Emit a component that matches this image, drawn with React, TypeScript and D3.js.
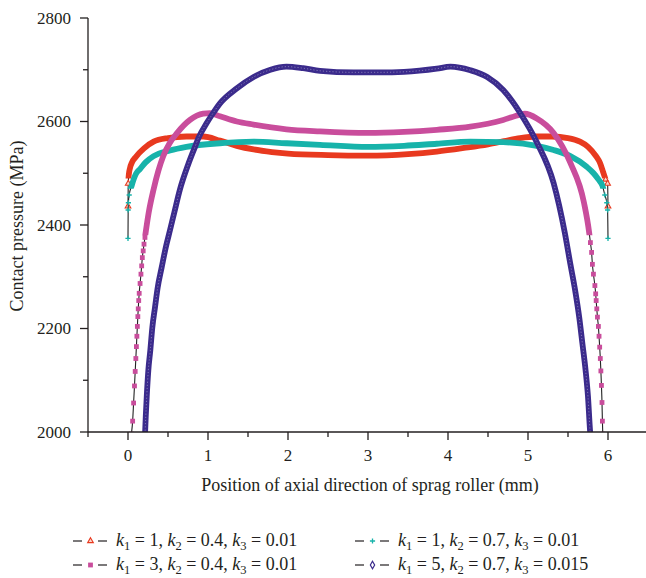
import React from 'react';
import * as d3 from 'd3';

const W = 646;
const H = 578;

// Axis ticks
const xTicks = [0, 1, 2, 3, 4, 5, 6];
const xMinorTicks = [-0.5, 0.5, 1.5, 2.5, 3.5, 4.5, 5.5, 6.5];
const yTicks = [2000, 2200, 2400, 2600, 2800];
const yMinorTicks = [2100, 2300, 2500, 2700];

// k1 = 1, k2 = 0.4, k3 = 0.01
const redX = [0, 0.003, 0.01, 0.025, 0.05, 0.1, 0.2, 0.32, 0.5, 0.73, 0.94, 1.15, 1.36, 1.57, 1.8, 2.0, 2.5, 3.0, 3.5, 3.86, 4.2, 4.5, 4.7, 4.9, 5.1, 5.3, 5.5, 5.65, 5.75, 5.85, 5.9, 5.94, 5.97, 5.995, 6.0];
const redP = [2436, 2480, 2497, 2510, 2521, 2532, 2548, 2561, 2568, 2571, 2571, 2563, 2553, 2546, 2541, 2538, 2535, 2534, 2537, 2542, 2549, 2556, 2562, 2568, 2571, 2571, 2568, 2561, 2551, 2533, 2520, 2502, 2488, 2480, 2436];

// k1 = 1, k2 = 0.7, k3 = 0.01
const cyanX = [0, 0.002, 0.005, 0.015, 0.046, 0.1, 0.15, 0.22, 0.32, 0.525, 0.73, 1.15, 1.57, 1.98, 2.4, 3.0, 3.45, 3.86, 4.28, 4.69, 5.11, 5.32, 5.53, 5.73, 5.82, 5.88, 5.93, 5.96, 5.985, 5.995, 6.0];
const cyanP = [2374, 2429, 2443, 2458, 2476, 2499, 2508, 2521, 2533, 2544, 2551, 2558, 2561, 2558, 2555, 2551, 2553, 2557, 2561, 2560, 2553, 2545, 2533, 2513, 2500, 2488, 2476, 2458, 2443, 2429, 2374];

// k1 = 3, k2 = 0.4, k3 = 0.01
const pinkX = [0.042, 0.058, 0.07, 0.081, 0.09, 0.098, 0.105, 0.111, 0.117, 0.123, 0.128, 0.134, 0.14, 0.151, 0.162, 0.171, 0.179, 0.19, 0.2, 0.212, 0.26, 0.32, 0.38, 0.44, 0.52, 0.61, 0.775, 0.94, 1.025, 1.15, 1.36, 1.57, 1.98, 2.4, 3.0, 3.45, 3.86, 4.28, 4.69, 4.9, 4.96, 5.11, 5.32, 5.53, 5.7, 5.765, 5.78, 5.795, 5.805, 5.818, 5.836, 5.846, 5.852, 5.86, 5.868, 5.88, 5.888, 5.896, 5.904, 5.911, 5.918, 5.925, 5.93, 5.935];
const pinkP = [1996, 2021, 2056, 2089, 2117, 2142, 2165, 2185, 2204, 2223, 2238, 2254, 2268, 2287, 2305, 2321, 2337, 2350, 2363, 2376, 2425, 2469, 2505, 2533, 2558, 2577, 2603, 2615, 2616, 2610, 2600, 2594, 2585, 2581, 2578, 2580, 2584, 2590, 2603, 2613, 2615, 2606, 2578, 2520, 2443, 2385, 2366, 2347, 2324, 2305, 2283, 2267, 2254, 2238, 2222, 2204, 2185, 2164, 2142, 2118, 2090, 2057, 2021, 1996];

// k1 = 5, k2 = 0.7, k3 = 0.015
const purpleX = [0.213, 0.222, 0.234, 0.254, 0.279, 0.304, 0.3375, 0.371, 0.421, 0.471, 0.525, 0.58, 0.65, 0.75, 0.84, 0.88, 0.98, 1.05, 1.15, 1.36, 1.57, 1.78, 1.98, 2.19, 2.4, 2.82, 3.15, 3.45, 3.86, 4.03, 4.28, 4.49, 4.69, 4.9, 5.11, 5.32, 5.46, 5.53, 5.59, 5.64, 5.68, 5.72, 5.75, 5.775, 5.785];
const purpleP = [1996, 2030, 2068, 2119, 2158, 2202, 2241, 2279, 2318, 2356, 2390, 2425, 2469, 2516, 2552, 2568, 2596, 2613, 2635, 2664, 2686, 2700, 2706, 2703, 2698, 2695, 2695, 2696, 2702, 2706, 2699, 2686, 2661, 2617, 2560, 2481, 2385, 2324, 2273, 2222, 2171, 2119, 2068, 2004, 1985];

// Legend parameter values, in series order
const k1Values = ['1', '1', '3', '5'];
const k2Values = ['0.4', '0.7', '0.4', '0.7'];
const k3Values = ['0.01', '0.01', '0.01', '0.015'];

type MarkerKind = 'triangle' | 'plus' | 'square' | 'diamond';

const seriesList: {
  id: string;
  xs: number[];
  ps: number[];
  color: string;
  marker: MarkerKind;
  bandFrom: number;
  hollowBand?: boolean;
}[] = [
  { id: 'red', xs: redX, ps: redP, color: '#e8391f', marker: 'triangle', bandFrom: 2490 },
  { id: 'cyan', xs: cyanX, ps: cyanP, color: '#17b3aa', marker: 'plus', bandFrom: 2470 },
  { id: 'pink', xs: pinkX, ps: pinkP, color: '#c94d9c', marker: 'square', bandFrom: 2380 },
  { id: 'purple', xs: purpleX, ps: purpleP, color: '#3b2b8c', marker: 'diamond', bandFrom: 1900, hollowBand: true },
];

const FONT = '"Liberation Serif", "Times New Roman", serif';
const AXIS = '#231f20';

const x = d3.scaleLinear().domain([-0.5, 6.5]).range([88, 648]);
const y = d3.scaleLinear().domain([2000, 2800]).range([432, 18]);

function Marker({ kind, color, cx, cy }: { kind: MarkerKind; color: string; cx: number; cy: number }) {
  const t = `translate(${cx},${cy})`;
  if (kind === 'triangle') {
    return <path transform={t} d={d3.symbol(d3.symbolTriangle, 14)() || ''} fill="#fbd6cc" stroke={color} strokeWidth={1.1} />;
  }
  if (kind === 'square') {
    return <rect x={cx - 2.4} y={cy - 2.4} width={4.8} height={4.8} fill={color} />;
  }
  if (kind === 'plus') {
    return <path transform={t} d="M-2.6,0H2.6M0,-2.6V2.6" stroke={color} strokeWidth={1.3} fill="none" />;
  }
  return <path transform={t} d={d3.symbol(d3.symbolDiamond, 16)() || ''} fill="#fff" stroke={color} strokeWidth={1.2} />;
}

export default function App() {
  const line = d3
    .line<[number, number]>()
    .x((d) => x(d[0]))
    .y((d) => y(d[1]))
    .curve(d3.curveMonotoneX);

  const legendCols = [73, 355];
  const legendRows = [541, 565];

  return (
    <svg
      width={W}
      height={H}
      viewBox={`0 0 ${W} ${H}`}
      style={{ position: 'absolute', left: 0, top: 0, background: '#fff' }}
      fontFamily={FONT}
    >
      <defs>
        <clipPath id="plot-area">
          <rect x={88} y={0} width={W - 88} height={432} />
        </clipPath>
        {seriesList.map((s) => (
          <clipPath id={`band-${s.id}`} key={s.id}>
            <rect x={88} y={0} width={W - 88} height={y(s.bandFrom)} />
          </clipPath>
        ))}
      </defs>

      {/* Series */}
      <g clipPath="url(#plot-area)">
        {seriesList.map((s) => {
          const pts = s.xs.map((v, i) => [v, s.ps[i]] as [number, number]);
          const d = line(pts) || '';
          return (
            <g key={s.id}>
              <path d={d} fill="none" stroke="#222" strokeWidth={1.1} />
              <g clipPath={`url(#band-${s.id})`}>
                <path d={d} fill="none" stroke={s.color} strokeWidth={5.8} strokeLinejoin="round" />
                {s.hollowBand && (
                  <path d={d} fill="none" stroke="#fff" strokeOpacity={0.35} strokeWidth={1} strokeDasharray="1.2 2" />
                )}
              </g>
              {pts
                .filter((p) => p[1] < s.bandFrom)
                .map((p, i) => (
                  <Marker key={i} kind={s.marker} color={s.color} cx={x(p[0])} cy={y(p[1])} />
                ))}
            </g>
          );
        })}
      </g>

      {/* Y axis */}
      <g stroke={AXIS} strokeWidth={1.3}>
        <line x1={88} x2={88} y1={y(2800)} y2={y(2000)} />
        {yTicks.map((t) => (
          <line key={t} x1={80} x2={88} y1={y(t)} y2={y(t)} />
        ))}
        {yMinorTicks.map((t) => (
          <line key={t} x1={83} x2={88} y1={y(t)} y2={y(t)} />
        ))}
      </g>
      {yTicks.map((t) => (
        <text key={t} x={71} y={y(t)} dy="0.34em" textAnchor="end" fontSize={17} fill={AXIS}>
          {t}
        </text>
      ))}

      {/* X axis */}
      <g stroke={AXIS} strokeWidth={1.3}>
        <line x1={88} x2={W} y1={432} y2={432} />
        {xTicks.map((t) => (
          <line key={t} x1={x(t)} x2={x(t)} y1={432} y2={440} />
        ))}
        {xMinorTicks.map((t) => (
          <line key={t} x1={x(t)} x2={x(t)} y1={432} y2={437} />
        ))}
      </g>
      {xTicks.map((t) => (
        <text key={t} x={x(t)} y={461} textAnchor="middle" fontSize={17} fill={AXIS}>
          {t}
        </text>
      ))}

      {/* Axis titles */}
      <text x={370} y={491} textAnchor="middle" fontSize={18} fill={AXIS}>
        Position of axial direction of sprag roller (mm)
      </text>
      <text transform="translate(23,226) rotate(-90)" textAnchor="middle" fontSize={18} fill={AXIS}>
        Contact pressure (MPa)
      </text>

      {/* Legend */}
      {seriesList.map((s, i) => {
        const lx = legendCols[i % 2];
        const ly = legendRows[Math.floor(i / 2)];
        return (
          <g key={s.id}>
            <line x1={lx} x2={lx + 9} y1={ly} y2={ly} stroke={AXIS} strokeWidth={1.2} />
            <line x1={lx + 25} x2={lx + 34} y1={ly} y2={ly} stroke={AXIS} strokeWidth={1.2} />
            <Marker kind={s.marker} color={s.color} cx={lx + 17.5} cy={ly} />
            <text x={lx + 43} y={ly + 5} fontSize={18} fill={AXIS}>
              <tspan fontStyle="italic">k</tspan>
              <tspan fontSize={12.5} dy={4}>1</tspan>
              <tspan dy={-4}>{` = ${k1Values[i]}, `}</tspan>
              <tspan fontStyle="italic">k</tspan>
              <tspan fontSize={12.5} dy={4}>2</tspan>
              <tspan dy={-4}>{` = ${k2Values[i]}, `}</tspan>
              <tspan fontStyle="italic">k</tspan>
              <tspan fontSize={12.5} dy={4}>3</tspan>
              <tspan dy={-4}>{` = ${k3Values[i]}`}</tspan>
            </text>
          </g>
        );
      })}
    </svg>
  );
}
